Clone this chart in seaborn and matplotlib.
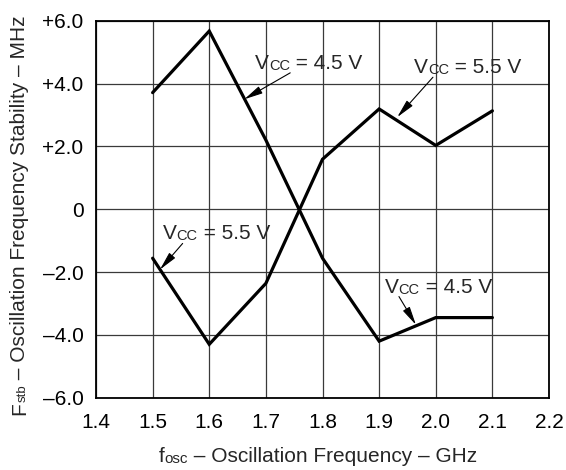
import matplotlib
matplotlib.use("Agg")
import matplotlib.pyplot as plt
import pandas as pd
import seaborn as sns

# values
freq = [1.5, 1.6, 1.7, 1.8, 1.9, 2.0, 2.1]
stab_45 = [3.71, 5.67, 2.2, -1.56, -4.2, -3.45, -3.45]
stab_55 = [-1.56, -4.3, -2.36, 1.59, 3.19, 2.03, 3.13]
vcc_labels = ['4.5 V', '5.5 V']

x_ticks = [1.4, 1.5, 1.6, 1.7, 1.8, 1.9, 2.0, 2.1, 2.2]
x_tick_labels = ['1.4', '1.5', '1.6', '1.7', '1.8', '1.9', '2.0', '2.1', '2.2']
y_ticks = [-6, -4, -2, 0, 2, 4, 6]
y_tick_labels = ['–6.0', '–4.0', '–2.0', '0', '+2.0', '+4.0', '+6.0']

df = pd.DataFrame({
    'freq': freq * 2,
    'stab': stab_45 + stab_55,
    'vcc': [vcc_labels[0]] * len(freq) + [vcc_labels[1]] * len(freq),
})

sns.set_style("white")
plt.rcParams['font.family'] = ['Liberation Sans', 'DejaVu Sans']

BIG = 15
SMALL = 10.5

fig = plt.figure(figsize=(5.66, 4.70), dpi=100)
ax = fig.add_axes([0.1696, 0.1538, 0.8004, 0.8022])

sns.lineplot(data=df, x='freq', y='stab', units='vcc', estimator=None,
             color='black', lw=2.3, legend=False, ax=ax,
             solid_joinstyle='miter')

ax.set_xlim(1.4, 2.2)
ax.set_ylim(-6, 6)
ax.set_xticks(x_ticks)
ax.set_xticklabels(x_tick_labels)
ax.set_yticks(y_ticks)
ax.set_yticklabels(y_tick_labels)
ax.tick_params(length=0, labelsize=BIG, colors='black')
ax.tick_params(axis='x', pad=11)
ax.tick_params(axis='y', pad=9)
ax.grid(True, color='#3a3a3a', lw=0.9)
ax.set_axisbelow(True)
for sp in ax.spines.values():
    sp.set_color('black')
    sp.set_linewidth(1.3)
ax.set_xlabel('')
ax.set_ylabel('')


def chain_text(first_text, parts, rot=0):
    # glue smaller / larger pieces one after the other on a shared bottom
    t = first_text
    for s, size in parts:
        if rot == 0:
            t = ax.annotate(s, xy=(1, 0), xycoords=t, fontsize=size,
                            ha='left', va='bottom')
        else:
            t = ax.annotate(s, xy=(1, 1), xycoords=t, fontsize=size,
                            rotation=90, ha='right', va='bottom')
    return t


def vcc_label(x, y, volts):
    t = ax.text(x, y, 'V', fontsize=BIG, ha='left', va='baseline')
    chain_text(t, [('CC', SMALL), (' = ' + volts, BIG)])


arrow = dict(arrowstyle='-|>,head_length=0.8,head_width=0.17', lw=0.8,
             color='black', shrinkA=0, shrinkB=0, mutation_scale=14)

# labels with pointers
vcc_label(1.681, 4.47, '4.5 V')
ax.annotate('', xy=(1.662, 3.5), xytext=(1.743, 4.34), arrowprops=arrow)

vcc_label(1.962, 4.33, '5.5 V')
ax.annotate('', xy=(1.932, 2.93), xytext=(1.995, 4.2), arrowprops=arrow)

vcc_label(1.518, -0.95, '5.5 V')
ax.annotate('', xy=(1.513, -1.92), xytext=(1.553, -1.09), arrowprops=arrow)

vcc_label(1.910, -2.68, '4.5 V')
ax.annotate('', xy=(1.965, -3.68), xytext=(1.935, -2.78), arrowprops=arrow)

# axis titles with small inline subscripts
xl = fig.text(159 / 566, 1 - 462 / 470, 'f', fontsize=BIG, ha='left', va='baseline')
chain_text(xl, [('osc', SMALL + 0.5), (' – Oscillation Frequency – GHz', BIG)])

yl = fig.text(25 / 566, 1 - 415 / 470, 'F', fontsize=BIG, rotation=90,
              rotation_mode='anchor', ha='left', va='baseline')
chain_text(yl, [('stb', SMALL - 1), (' – Oscillation Frequency Stability – MHz', BIG)], rot=90)

fig.savefig('out.png', dpi=100)
